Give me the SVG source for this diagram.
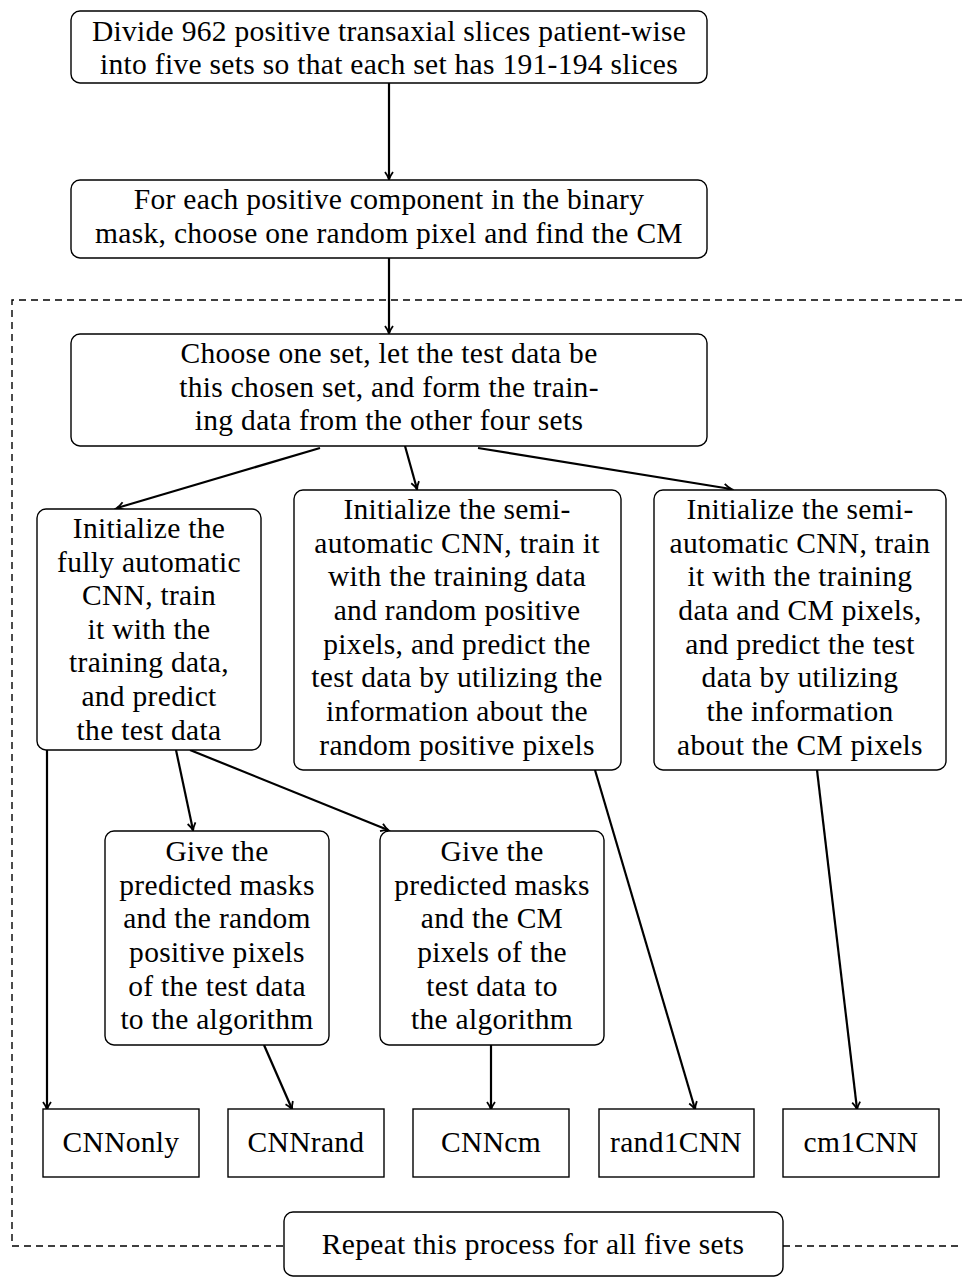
<svg xmlns="http://www.w3.org/2000/svg" width="962" height="1278" viewBox="0 0 962 1278">
<defs>
<marker id="ah" markerWidth="12" markerHeight="12" refX="9" refY="6" orient="auto" markerUnits="userSpaceOnUse">
<path d="M2,2 Q6,5 9.5,6 Q6,7 2,10" fill="none" stroke="#000" stroke-width="1.8"/>
</marker>
<style>
.b{fill:#fff;stroke:#000;stroke-width:1.4}
.t{font-family:"Liberation Serif","DejaVu Serif",serif;font-size:29.5px;letter-spacing:0.3px;fill:#000;text-anchor:middle}
.c{fill:none;stroke:#000;stroke-width:2.2;marker-end:url(#ah)}
.d{fill:none;stroke:#000;stroke-width:1.4;stroke-dasharray:7,5}
</style>
</defs>
<rect width="962" height="1278" fill="#fff"/>
<g id="frame"><path class="d" d="M962,300 H12 V1246 H284 M783,1246 H962"/></g>
<g id="connectors">
<path class="c" d="M389,83 V179"/>
<path class="c" d="M389,258 V333"/>
<path class="c" d="M320,448 L117,508"/>
<path class="c" d="M405,446 L417,489"/>
<path class="c" d="M478,448 L731,489"/>
<path class="c" d="M47,750 V1109"/>
<path class="c" d="M176,750 L193,830"/>
<path class="c" d="M190,750 L388,830"/>
<path class="c" d="M264,1045 L292,1109"/>
<path class="c" d="M491,1045 V1109"/>
<path class="c" d="M595,770 L695,1109"/>
<path class="c" d="M817,770 L857,1109"/>
</g>
<g id="n1"><rect class="b" x="71" y="11" width="636" height="72" rx="9"/>
<text class="t" x="389" y="41">Divide 962 positive transaxial slices patient-wise</text>
<text class="t" x="389" y="74">into five sets so that each set has 191-194 slices</text></g>
<g id="n2"><rect class="b" x="71" y="180" width="636" height="78" rx="9"/>
<text class="t" x="389" y="209">For each positive component in the binary</text>
<text class="t" x="389" y="243">mask, choose one random pixel and find the CM</text></g>
<g id="n3"><rect class="b" x="71" y="334" width="636" height="112" rx="9"/>
<text class="t" x="389" y="363">Choose one set, let the test data be</text>
<text class="t" x="389" y="397">this chosen set, and form the train-</text>
<text class="t" x="389" y="430">ing data from the other four sets</text></g>
<g id="n4"><rect class="b" x="37" y="509" width="224" height="241" rx="9"/>
<text class="t" x="149" y="538">Initialize the</text>
<text class="t" x="149" y="572">fully automatic</text>
<text class="t" x="149" y="605">CNN, train</text>
<text class="t" x="149" y="639">it with the</text>
<text class="t" x="149" y="672">training data,</text>
<text class="t" x="149" y="706">and predict</text>
<text class="t" x="149" y="740">the test data</text></g>
<g id="n5"><rect class="b" x="294" y="490" width="327" height="280" rx="9"/>
<text class="t" x="457" y="519">Initialize the semi-</text>
<text class="t" x="457" y="553">automatic CNN, train it</text>
<text class="t" x="457" y="586">with the training data</text>
<text class="t" x="457" y="620">and random positive</text>
<text class="t" x="457" y="654">pixels, and predict the</text>
<text class="t" x="457" y="687">test data by utilizing the</text>
<text class="t" x="457" y="721">information about the</text>
<text class="t" x="457" y="755">random positive pixels</text></g>
<g id="n6"><rect class="b" x="654" y="490" width="292" height="280" rx="9"/>
<text class="t" x="800" y="519">Initialize the semi-</text>
<text class="t" x="800" y="553">automatic CNN, train</text>
<text class="t" x="800" y="586">it with the training</text>
<text class="t" x="800" y="620">data and CM pixels,</text>
<text class="t" x="800" y="654">and predict the test</text>
<text class="t" x="800" y="687">data by utilizing</text>
<text class="t" x="800" y="721">the information</text>
<text class="t" x="800" y="755">about the CM pixels</text></g>
<g id="n7"><rect class="b" x="105" y="831" width="224" height="214" rx="9"/>
<text class="t" x="217" y="861">Give the</text>
<text class="t" x="217" y="895">predicted masks</text>
<text class="t" x="217" y="928">and the random</text>
<text class="t" x="217" y="962">positive pixels</text>
<text class="t" x="217" y="996">of the test data</text>
<text class="t" x="217" y="1029">to the algorithm</text></g>
<g id="n8"><rect class="b" x="380" y="831" width="224" height="214" rx="9"/>
<text class="t" x="492" y="861">Give the</text>
<text class="t" x="492" y="895">predicted masks</text>
<text class="t" x="492" y="928">and the CM</text>
<text class="t" x="492" y="962">pixels of the</text>
<text class="t" x="492" y="996">test data to</text>
<text class="t" x="492" y="1029">the algorithm</text></g>
<g id="o1"><rect class="b" x="43" y="1109" width="156" height="68"/><text class="t" x="121" y="1152">CNNonly</text></g>
<g id="o2"><rect class="b" x="228" y="1109" width="156" height="68"/><text class="t" x="306" y="1152">CNNrand</text></g>
<g id="o3"><rect class="b" x="413" y="1109" width="156" height="68"/><text class="t" x="491" y="1152">CNNcm</text></g>
<g id="o4"><rect class="b" x="599" y="1109" width="155" height="68"/><text class="t" x="676" y="1152">rand1CNN</text></g>
<g id="o5"><rect class="b" x="783" y="1109" width="156" height="68"/><text class="t" x="861" y="1152">cm1CNN</text></g>
<g id="rep"><rect class="b" x="284" y="1212" width="499" height="64" rx="9"/>
<text class="t" x="533" y="1254">Repeat this process for all five sets</text></g>
</svg>
